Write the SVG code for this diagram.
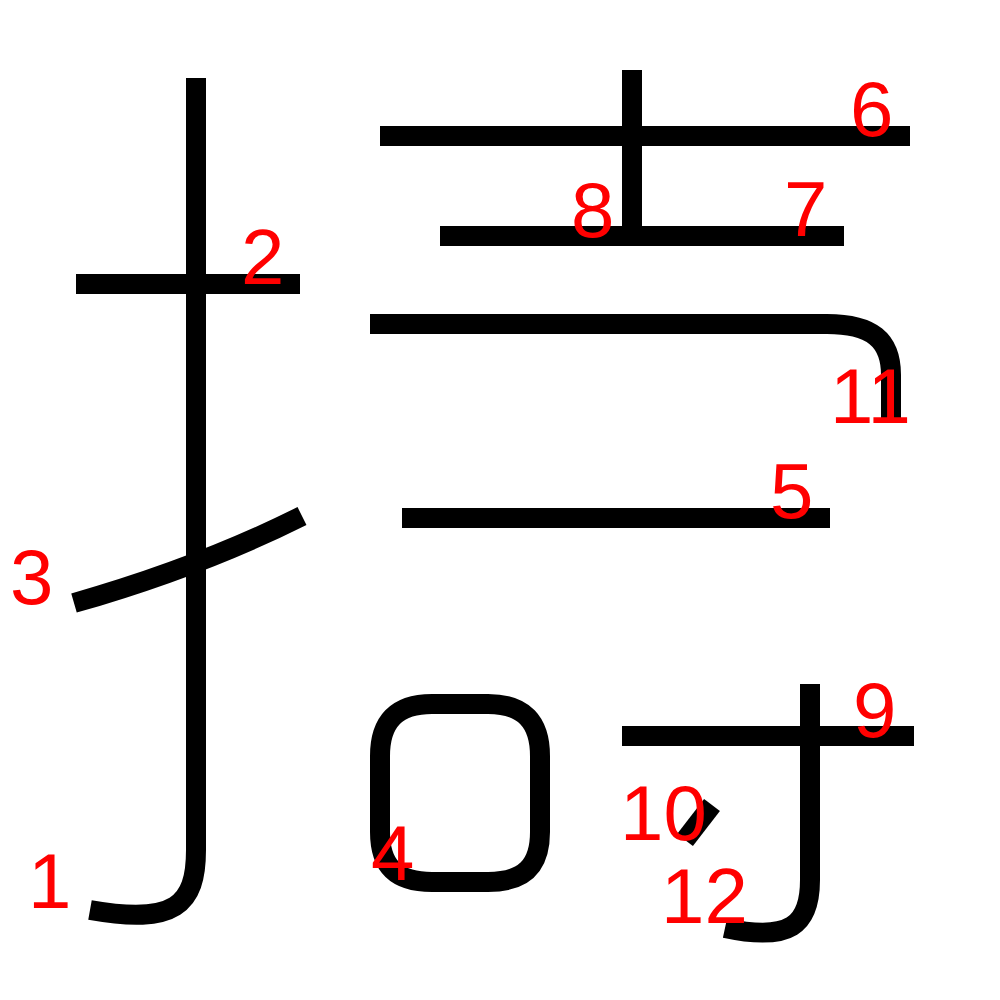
<svg xmlns="http://www.w3.org/2000/svg" width="1000" height="1000" viewBox="0 0 1000 1000">
<style>
.s{fill:none;stroke:#000;stroke-width:20;stroke-linecap:butt;stroke-linejoin:round}
.n{fill:#f00;font-family:"Liberation Sans",Arial,sans-serif;font-size:78px}
</style>
<rect width="1000" height="1000" fill="#fff"/>
<g id="strokes">
<g id="s1"><path class="s" d="M196,78 V850 C196,905 175,925 90,910"/></g>
<g id="s2"><path class="s" d="M76,284 H300"/></g>
<g id="s3"><path class="s" d="M74,603 Q200,567 302,516"/></g>
<g id="s4"><path class="s" d="M380,756 C380,722 396,704 432,704 H488 C524,704 540,722 540,756 V832 C540,866 524,882 488,882 H432 C396,882 380,866 380,832 Z"/></g>
<g id="s5"><path class="s" d="M402,518 H830"/></g>
<g id="s6"><path class="s" d="M380,136 H910"/></g>
<g id="s7"><path class="s" d="M440,236 H844"/></g>
<g id="s8"><path class="s" d="M632,70 V226"/></g>
<g id="s9"><path class="s" d="M622,736 H914"/></g>
<g id="s10"><path class="s" d="M712,805 L685,840"/></g>
<g id="s11"><path class="s" d="M370,324 H827 C872,324 891,340 891,375 V423"/></g>
<g id="s12"><path class="s" d="M810,684 V880 C810,925 790,942 725,928"/></g>
</g>
<g id="labels">
<text class="n" x="28" y="908">1</text>
<text class="n" x="241" y="284">2</text>
<text class="n" x="10" y="604">3</text>
<text class="n" x="371" y="880">4</text>
<text class="n" x="770" y="518">5</text>
<text class="n" x="850" y="136">6</text>
<text class="n" x="784" y="236">7</text>
<text class="n" x="571" y="237">8</text>
<text class="n" x="853" y="737">9</text>
<text class="n" x="620" y="840">10</text>
<text class="n" x="830" y="423">11</text>
<text class="n" x="661" y="923">12</text>
</g>
</svg>
